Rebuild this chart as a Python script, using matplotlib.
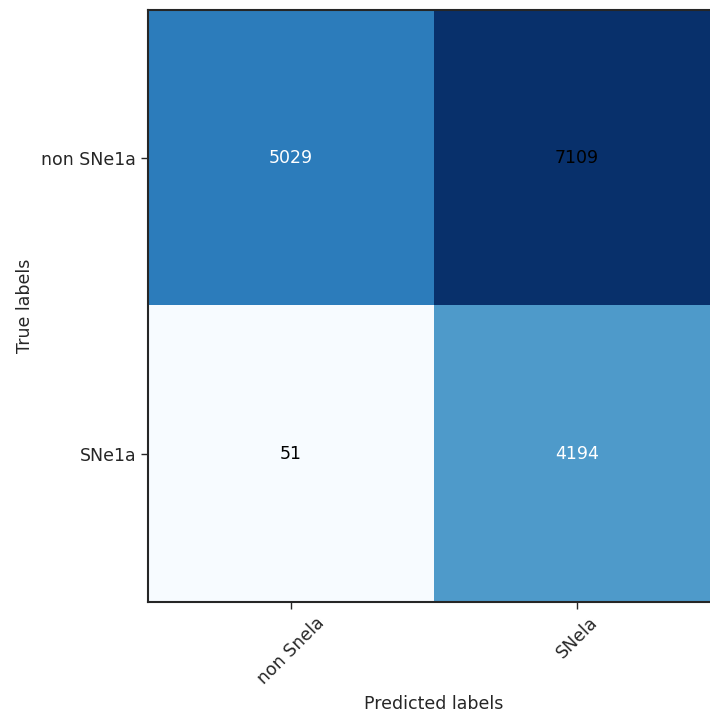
import matplotlib
matplotlib.use('Agg')
import matplotlib.pyplot as plt
import numpy as np

# confusion matrix counts (rows: true, cols: predicted)
true_labels = ['non SNe1a', 'SNe1a']
pred_labels = ['non Snela', 'SNela']
counts = [[5029, 7109],
          [51, 4194]]
text_colors = [['white', 'black'],
               ['black', 'white']]

cm = np.array(counts)
fs = 12.5

fig = plt.figure(figsize=(7.1, 7.18), dpi=100)
ax = fig.add_axes([148 / 710, 116 / 718, 572 / 710, 592 / 718])
ax.imshow(cm, cmap=plt.cm.Blues, interpolation='nearest', aspect='auto')

for i in range(cm.shape[0]):
    for j in range(cm.shape[1]):
        ax.text(j, i, str(cm[i, j]), ha='center', va='center',
                fontsize=fs, color=text_colors[i][j])

ax.set_xticks(range(len(pred_labels)))
ax.set_xticklabels(pred_labels, rotation=45, fontsize=fs, color='#262626')
ax.set_yticks(range(len(true_labels)))
ax.set_yticklabels(true_labels, fontsize=fs, color='#262626')
ax.tick_params(length=5, width=1, color='#262626')
ax.set_xlabel('Predicted labels', fontsize=fs, color='#262626', labelpad=5)
ax.set_ylabel('True labels', fontsize=fs, color='#262626', labelpad=5)
for s in ax.spines.values():
    s.set_color('#262626')
    s.set_linewidth(1.5)

fig.savefig('out.png', dpi=100)
